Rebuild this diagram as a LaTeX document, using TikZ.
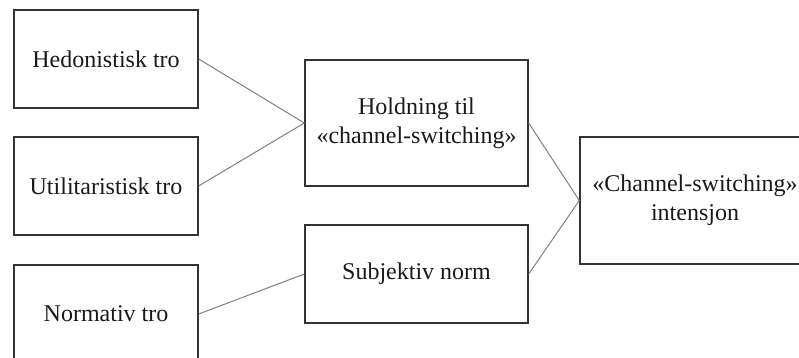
\documentclass[tikz,border=0pt]{standalone}
\usepackage{fontspec}
\setmainfont{Liberation Serif}
\begin{document}
\begin{tikzpicture}[x=1pt,y=-1pt,
  box/.style={draw=black!80,line width=1.4pt,rectangle,inner sep=0pt,align=center,
    font=\fontsize{24}{29}\selectfont,text=black!90},
  link/.style={draw=black!50,line width=1pt}]
\useasboundingbox (0,0) rectangle (799,358);
\clip (0,0) rectangle (799,358);
\node[box,minimum width=184pt,minimum height=98pt] (hed) at (106,59) {Hedonistisk tro};
\node[box,minimum width=184pt,minimum height=98pt] (uti) at (106,186) {Utilitaristisk tro};
\node[box,minimum width=184pt,minimum height=98pt] (nor) at (106,314) {Normativ tro};
\node[box,minimum width=223pt,minimum height=126pt] (hol) at (416.5,123) {Holdning til\\«channel-switching»};
\node[box,minimum width=223pt,minimum height=98pt] (sub) at (416.5,274) {Subjektiv norm};
\node[box,minimum width=230pt,minimum height=127pt] (cha) at (695,200.5) {«Channel-switching»\\intensjon};
\draw[link] (hed.east) -- (hol.west);
\draw[link] (uti.east) -- (hol.west);
\draw[link] (nor.east) -- (sub.west);
\draw[link] (hol.east) -- (cha.west);
\draw[link] (sub.east) -- (cha.west);
\end{tikzpicture}
\end{document}
